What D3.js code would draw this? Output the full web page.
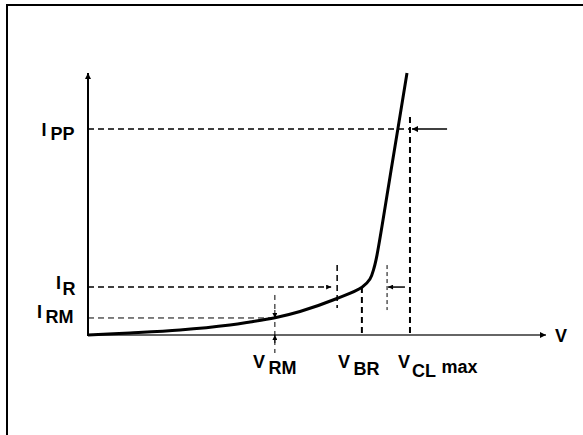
<!DOCTYPE html>
<html><head><meta charset="utf-8">
<script src="https://cdn.jsdelivr.net/npm/d3@7"></script>
<style>
html,body{margin:0;padding:0;background:#fff;}
svg{display:block;}
text{font-family:"Liberation Sans",Arial,sans-serif;font-weight:bold;fill:#000;}
</style></head>
<body>
<svg id="c" width="583" height="435"></svg>
<script>
// I-V characteristic of a TVS diode (arbitrary units 0..100)
const curveV = [0, 9.17, 20.09, 31.0, 35.37, 40.83, 46.29, 54.37, 59.83, 61.57, 62.45, 63.1, 66.4, 69.65];
const curveI = [0, 0.76, 1.91, 3.82, 4.96, 6.6, 8.97, 13.93, 18.2, 21.37, 25.57, 30.5, 65.3, 100];
const levelNames = ["PP", "R", "RM"];
const levelValues = [78.6, 18.3, 6.5];
const voltNames = ["RM", "BR", "CL"];
const voltValues = [40.8, 59.8, 70.3];
const irTicks = [54.4, 65.3];
const ippArrowFrom = 78.4;
const irArrowFrom = 69.2;

const svg = d3.select("#c");
const x = d3.scaleLinear().domain([0, 100]).range([88, 546]);
const y = d3.scaleLinear().domain([0, 100]).range([335, 73]);

const IPP = levelValues[0], IR = levelValues[1], IRM = levelValues[2];
const VRM = voltValues[0], VBR = voltValues[1], VCL = voltValues[2];

// markers
const defs = svg.append("defs");
function mk(id, w, h) {
  defs.append("marker").attr("id", id).attr("viewBox", "0 0 10 10")
    .attr("refX", 10).attr("refY", 5).attr("markerUnits", "userSpaceOnUse")
    .attr("markerWidth", w).attr("markerHeight", h).attr("orient", "auto")
    .append("path").attr("d", "M0,0L10,5L0,10z").attr("fill", "#000");
}
mk("ah", 7, 6);
mk("ahs", 6, 5);

// border (top and left)
svg.append("line").attr("x1", 7).attr("y1", 5).attr("x2", 583).attr("y2", 5)
  .attr("stroke", "#000").attr("stroke-width", 2);
svg.append("line").attr("x1", 7).attr("y1", 4).attr("x2", 7).attr("y2", 435)
  .attr("stroke", "#000").attr("stroke-width", 2);

// axes
svg.append("line").attr("x1", x(0)).attr("y1", y(0)).attr("x2", x(100)).attr("y2", y(0))
  .attr("stroke", "#333").attr("stroke-width", 1.3).attr("marker-end", "url(#ah)");
svg.append("line").attr("x1", x(0)).attr("y1", y(0) + 1).attr("x2", x(0)).attr("y2", y(100))
  .attr("stroke", "#000").attr("stroke-width", 2).attr("marker-end", "url(#ah)");

function dash(x1, y1, x2, y2, w, d) {
  return svg.append("line").attr("x1", x1).attr("y1", y1).attr("x2", x2).attr("y2", y2)
    .attr("stroke", "#000").attr("stroke-width", w).attr("stroke-dasharray", d);
}

// horizontal dashed levels
dash(x(0), y(IPP), x(VCL), y(IPP), 1.5, "6,4");
dash(x(0), y(IR), x(irTicks[0]) - 6, y(IR), 1.5, "6,4").attr("marker-end", "url(#ahs)");
dash(x(0), y(IRM), x(VRM), y(IRM), 1, "6,4");

// vertical dashed lines
dash(x(VCL), y(IPP) - 12, x(VCL), y(0), 2, "6,4");
dash(x(VBR), y(IR), x(VBR), y(0), 2, "6,4");
dash(x(VRM), y(IRM) - 23, x(VRM), y(0) + 18, 1, "5,4");
dash(x(irTicks[0]), y(IR) - 22, x(irTicks[0]), y(IR) + 21, 1.5, "6,4");
dash(x(irTicks[1]), y(IR) - 22, x(irTicks[1]), y(IR) + 23, 1, "4,3");

// solid arrows
svg.append("line").attr("x1", x(ippArrowFrom)).attr("y1", y(IPP)).attr("x2", x(VCL) + 2).attr("y2", y(IPP))
  .attr("stroke", "#000").attr("stroke-width", 1.5).attr("marker-end", "url(#ah)");
svg.append("line").attr("x1", x(irArrowFrom)).attr("y1", y(IR)).attr("x2", x(irTicks[1]) + 1).attr("y2", y(IR))
  .attr("stroke", "#000").attr("stroke-width", 1.5).attr("marker-end", "url(#ahs)");
// VRM arrows
svg.append("line").attr("x1", x(VRM)).attr("y1", y(IRM) - 8).attr("x2", x(VRM)).attr("y2", y(IRM))
  .attr("stroke", "#000").attr("stroke-width", 1).attr("marker-end", "url(#ahs)");
svg.append("line").attr("x1", x(VRM)).attr("y1", y(0) + 8).attr("x2", x(VRM)).attr("y2", y(0))
  .attr("stroke", "#000").attr("stroke-width", 1).attr("marker-end", "url(#ahs)");

// curve
const pts = curveV.map((v, i) => [v, curveI[i]]);
svg.append("path").datum(pts)
  .attr("d", d3.line().x(d => x(d[0])).y(d => y(d[1])).curve(d3.curveCatmullRom.alpha(0.5)))
  .attr("fill", "none").attr("stroke", "#000").attr("stroke-width", 3)
  .attr("stroke-linejoin", "round");

// labels
function lab(px, py, main, sub, subDx, subDy, extra, exDx, exDy) {
  const t = svg.append("text").attr("x", px).attr("y", py).attr("font-size", 18);
  t.append("tspan").text(main);
  t.append("tspan").attr("dx", subDx).attr("dy", subDy).text(sub);
  if (extra) t.append("tspan").attr("dx", exDx).attr("dy", exDy).text(extra);
  return t;
}
lab(41.5, 135.5, "I", levelNames[0], 4, 4.5);
lab(56, 288.5, "I", levelNames[1], 1.6, 6.5);
lab(37, 317.5, "I", levelNames[2], 3.6, 5.5);
lab(253, 368, "V", voltNames[0], 3.6, 6);
lab(338, 368, "V", voltNames[1], 3.6, 7);
lab(398, 368, "V", voltNames[2], 2, 9, "max", 5.5, -4);
svg.append("text").attr("x", 555).attr("y", 342).attr("font-size", 18).text("V");
</script>
</body></html>
